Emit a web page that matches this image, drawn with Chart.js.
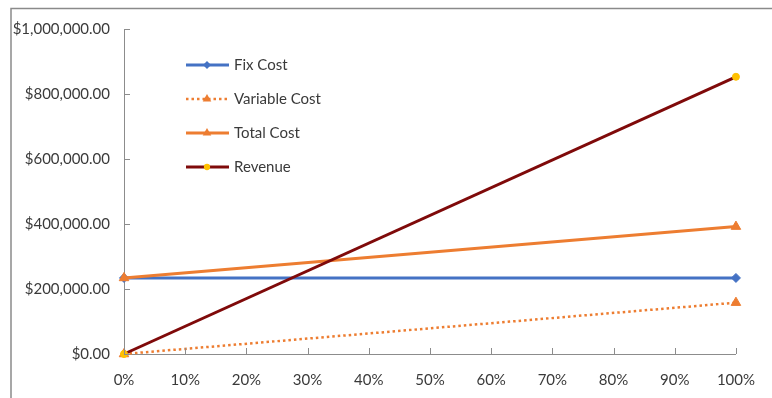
<!DOCTYPE html>
<html>
<head>
<meta charset="utf-8">
<script src="https://cdn.jsdelivr.net/npm/chart.js@4.4.1/dist/chart.umd.min.js"></script>
<style>
html,body{margin:0;padding:0;background:#fff;}
#wrap{position:relative;width:772px;height:398px;}
</style>
</head>
<body>
<div id="wrap"><canvas id="c" width="772" height="398"></canvas></div>
<script>
// ---- data ----
const xValues = [0, 100];                 // activity level, %
const xTicks = [0,10,20,30,40,50,60,70,80,90,100];
const yTicks = [0,200000,400000,600000,800000,1000000];
const seriesNames = ['Fix Cost', 'Variable Cost', 'Total Cost', 'Revenue'];
const fixCost = [234000, 234000];
const variableCost = [0, 158000];
const totalCost = [234000, 392000];
const revenue = [0, 853000];

const pts = arr => xValues.map((x, i) => ({x: x, y: arr[i]}));
const FONT = 'Lato, "Liberation Sans", sans-serif';
const TXT = '#3a3a3a';
const AXIS = '#8c8c8c';

const datasets = [
  {label: seriesNames[0], data: pts(fixCost), borderColor: '#4472C4', backgroundColor: '#4472C4',
   borderWidth: 3, pointStyle: 'rectRot', pointRadius: 4.5, order: 3},
  {label: seriesNames[1], data: pts(variableCost), borderColor: '#ED7D31', backgroundColor: '#ED7D31',
   borderWidth: 2.5, borderDash: [2.5, 3], pointStyle: 'triangle', pointRadius: 5.5, order: 2},
  {label: seriesNames[2], data: pts(totalCost), borderColor: '#ED7D31', backgroundColor: '#ED7D31',
   borderWidth: 3, pointStyle: 'triangle', pointRadius: 5.5, order: 1},
  {label: seriesNames[3], data: pts(revenue), borderColor: '#7F0A0A', backgroundColor: '#FFC000',
   pointBorderColor: '#FFC000', borderWidth: 3, pointStyle: 'circle', pointRadius: 3.5, order: 0}
];
datasets.forEach(d => { d.clip = false; d.tension = 0; d.pointBorderWidth = 1; if (!d.pointBorderColor) d.pointBorderColor = d.backgroundColor; });

function drawMarker(ctx, style, r, x, y, color) {
  ctx.save();
  ctx.fillStyle = color;
  ctx.beginPath();
  if (style === 'rectRot') {
    ctx.moveTo(x, y - r); ctx.lineTo(x + r, y); ctx.lineTo(x, y + r); ctx.lineTo(x - r, y);
  } else if (style === 'triangle') {
    ctx.moveTo(x, y - r); ctx.lineTo(x + r * 0.87, y + r * 0.5); ctx.lineTo(x - r * 0.87, y + r * 0.5);
  } else {
    ctx.arc(x, y, r, 0, Math.PI * 2);
  }
  ctx.closePath();
  ctx.fill();
  ctx.restore();
}

const decor = {
  id: 'decor',
  beforeDraw(chart) {
    const ctx = chart.ctx;
    ctx.save();
    ctx.fillStyle = '#fff';
    ctx.fillRect(0, 0, chart.width, chart.height);
    ctx.strokeStyle = '#8a8a8a';
    ctx.lineWidth = 1.5;
    ctx.beginPath();
    ctx.moveTo(11, 398); ctx.lineTo(11, 8.5); ctx.lineTo(772, 8.5);
    ctx.stroke();
    ctx.restore();
  },
  afterDraw(chart) {
    const ctx = chart.ctx;
    const xs = chart.scales.x, ys = chart.scales.y;
    const ca = chart.chartArea;
    ctx.save();
    ctx.strokeStyle = AXIS;
    ctx.lineWidth = 1;
    ctx.beginPath();
    xs.ticks.forEach(t => { const px = Math.round(xs.getPixelForValue(t.value)) + 0.5; ctx.moveTo(px, ca.bottom); ctx.lineTo(px, ca.bottom - 6); });
    ys.ticks.forEach(t => { const py = Math.round(ys.getPixelForValue(t.value)) + 0.5; ctx.moveTo(ca.left, py); ctx.lineTo(ca.left + 6, py); });
    ctx.stroke();
    // legend
    const rows = [65, 99, 133, 167];
    chart.data.datasets.forEach((d, i) => {
      const y = rows[i];
      ctx.save();
      ctx.strokeStyle = d.borderColor;
      ctx.lineWidth = d.borderWidth;
      ctx.setLineDash(d.borderDash || []);
      ctx.beginPath(); ctx.moveTo(186, y); ctx.lineTo(229, y); ctx.stroke();
      ctx.restore();
      drawMarker(ctx, d.pointStyle, d.pointRadius * 0.9, 207, y, d.pointBorderColor || d.backgroundColor);
      ctx.fillStyle = TXT;
      ctx.font = '15px ' + FONT;
      ctx.textBaseline = 'middle';
      ctx.textAlign = 'left';
      ctx.fillText(d.label, 234, y);
    });
    ctx.restore();
  }
};

new Chart(document.getElementById('c'), {
  type: 'line',
  data: {datasets: datasets},
  plugins: [decor],
  options: {
    responsive: false,
    animation: false,
    devicePixelRatio: 1,
    layout: {padding: {top: 29, right: 36, left: 0, bottom: 0}},
    plugins: {legend: {display: false}, tooltip: {enabled: false}},
    scales: {
      x: {
        type: 'linear', min: 0, max: 100,
        afterBuildTicks: s => { s.ticks = xTicks.map(v => ({value: v})); },
        afterFit: s => { s.height = 44; },
        grid: {display: false, drawTicks: false},
        border: {display: true, color: AXIS, width: 1},
        ticks: {padding: 17, color: TXT, font: {family: FONT, size: 15}, callback: v => v + '%', maxRotation: 0, autoSkip: false}
      },
      y: {
        min: 0, max: 1000000,
        afterBuildTicks: s => { s.ticks = yTicks.map(v => ({value: v})); },
        afterFit: s => { s.width = 124; },
        grid: {display: false, drawTicks: false},
        border: {display: true, color: AXIS, width: 1},
        ticks: {padding: 14, color: TXT, font: {family: FONT, size: 15},
          callback: v => '$' + Number(v).toLocaleString('en-US', {minimumFractionDigits: 2, maximumFractionDigits: 2})}
      }
    }
  }
});
</script>
</body>
</html>
